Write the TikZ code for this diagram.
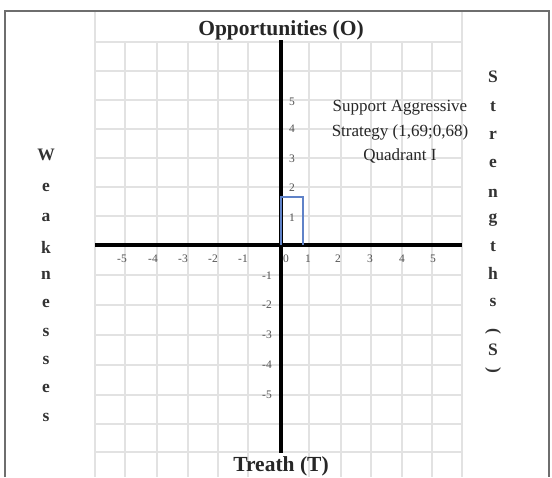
\documentclass[tikz,border=0pt]{standalone}
\usepackage{fontspec}
\setmainfont{Liberation Serif}
\definecolor{gridc}{RGB}{226,226,226}
\definecolor{framec}{RGB}{110,110,110}
\definecolor{boxblue}{RGB}{95,130,200}
\definecolor{tickc}{RGB}{80,80,80}
\tikzset{
  gridline/.style={draw=gridc, line width=1.2pt},
  axisline/.style={draw=black, line width=3.8pt},
  framel/.style={draw=framec, line width=2pt},
  ticklab/.style={font=\fontsize{11.5}{12}\selectfont, text=tickc, inner sep=0pt},
  vletter/.style={font=\fontsize{17.5}{20}\selectfont\bfseries, text=black!80, inner sep=0pt},
  titlelab/.style={font=\fontsize{21.5}{24}\selectfont\bfseries, text=black!85, inner sep=0pt},
  quadlab/.style={font=\fontsize{17}{24.5}\selectfont, align=center, inner sep=0pt, text=black!85},
  bluebox/.style={draw=boxblue, line width=1.5pt}
}
\begin{document}
\begin{tikzpicture}[x=1pt,y=-1pt]
\useasboundingbox (0,0) rectangle (552,477);
\fill[white] (0,0) rectangle (552,477);
% grid
\foreach \gx in {125,157,188,218,248,309,341,371,402,432}
  \draw[gridline] (\gx,42) -- (\gx,477);
\foreach \gx in {95,462}
  \draw[gridline] (\gx,12) -- (\gx,477);
\foreach \gy in {42,71,100,129,158,187,216,275,305,335,365,395,424,452}
  \draw[gridline] (95,\gy) -- (462,\gy);
% frame
\coordinate (f1) at (5,477);
\coordinate (f2) at (5,11);
\coordinate (f3) at (549,11);
\coordinate (f4) at (549,477);
\draw[framel] (f1) -- (f2) -- (f3) -- (f4);
% axes
\coordinate (xl) at (95,245);
\coordinate (xr) at (462,245);
\coordinate (yt) at (281,40);
\coordinate (yb) at (281,453);
\draw[axisline] (xl) -- (xr);
\draw[axisline] (yt) -- (yb);
% blue box
\coordinate (o) at (281,245);
\coordinate (p) at (303,197);
\draw[bluebox] (o) |- (p) -- (p |- o);
% tick labels
\foreach \tx/\tl [count=\k] in {122/-5,153/-4,183/-3,213/-2,243/-1,286/0,308/1,338/2,370/3,402/4,433/5}
  \node[ticklab] (xt\k) at (\tx,259) {\tl};
\foreach \ty/\tl [count=\k] in {102/5,129/4,159/3,188/2,218/1}
  \node[ticklab] (yp\k) at (292,\ty) {\tl};
\foreach \ty/\tl [count=\k] in {276/-1,305/-2,335/-3,365/-4,395/-5}
  \node[ticklab] (yn\k) at (267,\ty) {\tl};
% titles
\node[titlelab] (opp) at (281,30) {Opportunities (O)};
\node[titlelab] (thr) at (281,466) {Treath (T)};
\node[quadlab] (quad) at (400,132) {Support Aggressive\\Strategy (1,69;0,68)\\Quadrant I};
% weaknesses
\foreach \ly/\lc [count=\k] in {155/W,187/e,217/a,247/k,275/n,303/e,332/s,360/s,388/e,417/s}
  \node[vletter] (wl\k) at (46,\ly) {\lc};
% strengths
\foreach \ly/\lc [count=\k] in {77/S,107/t,135/r,163/e,193/n,220/g,247/t,273/h,302/s,350/S}
  \node[vletter] (sl\k) at (493,\ly) {\lc};
\node[vletter, rotate=-90] (spl) at (493,331) {(};
\node[vletter, rotate=-90] (spr) at (493,370) {)};
\end{tikzpicture}
\end{document}
